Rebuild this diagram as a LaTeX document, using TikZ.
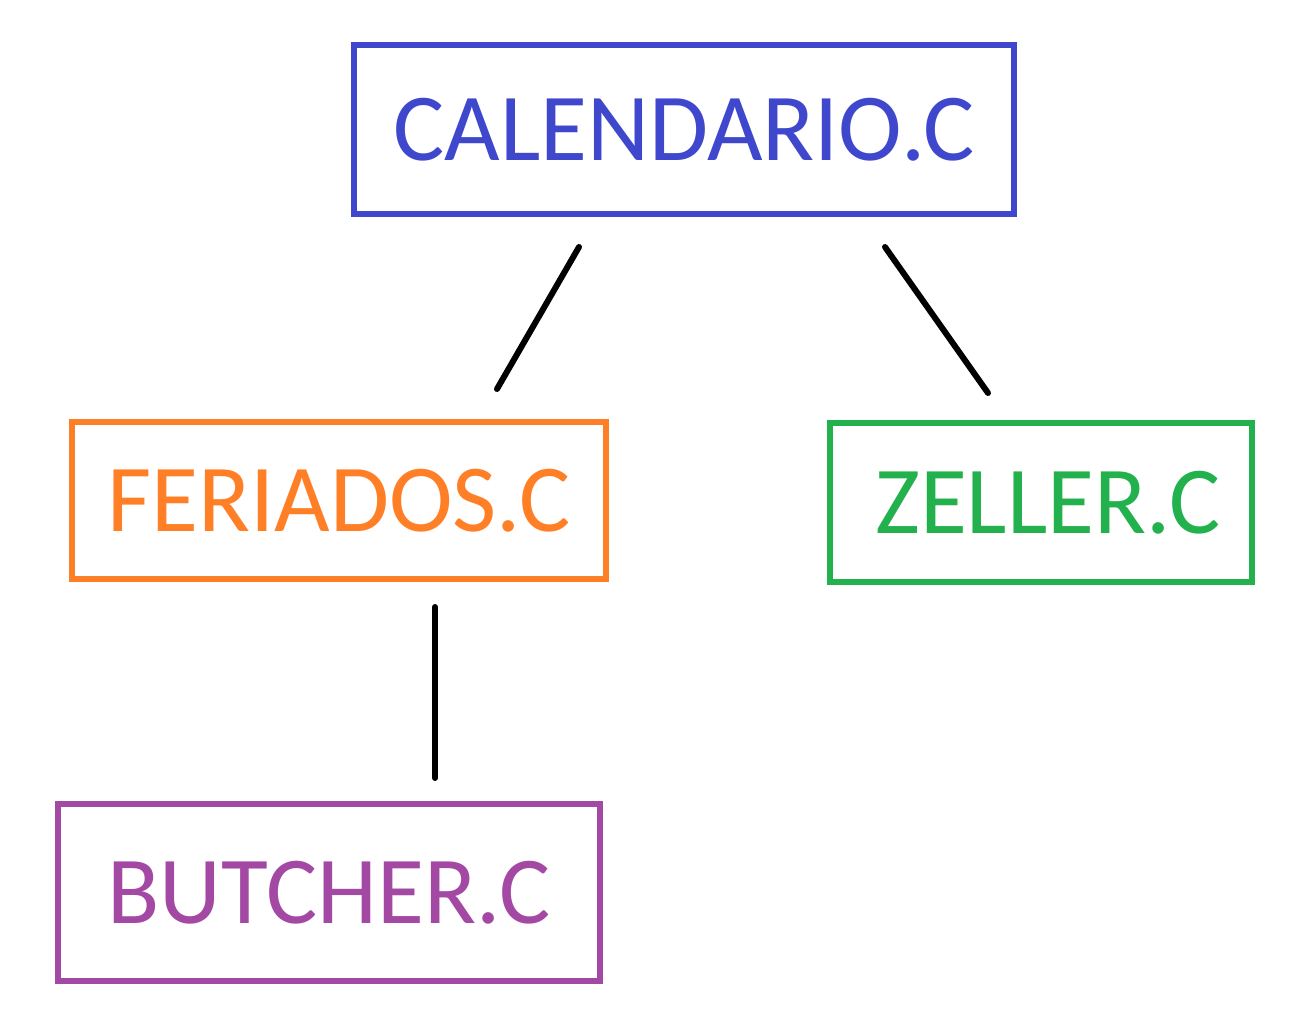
\documentclass[tikz,border=0pt]{standalone}
\usepackage{fontspec}
\setmainfont{Carlito}
\definecolor{pblue}{HTML}{3F48CC}
\definecolor{porange}{HTML}{FF7F27}
\definecolor{pgreen}{HTML}{22B14C}
\definecolor{ppurple}{HTML}{A349A4}
\begin{document}
\begin{tikzpicture}[x=1pt,y=-1pt,
  box/.style={draw, line width=6pt, rectangle, inner sep=0pt, font=\fontsize{96}{110}\selectfont},
  link/.style={draw=black, line width=6pt, line cap=round}]
\useasboundingbox (0,0) rectangle (1304,1032);
\node[box, draw=pblue, text=pblue, minimum width=660pt, minimum height=169pt] (cal) at (684,129.5) {CALENDARIO.C};
\node[box, draw=porange, text=porange, minimum width=534pt, minimum height=157pt] (fer) at (339,500.5) {FERIADOS.C};
\node[box, draw=pgreen, text=pgreen, minimum width=422pt, minimum height=159pt] (zel) at (1041,502.5) {\hspace*{14pt}ZELLER.C};
\node[box, draw=ppurple, text=ppurple, minimum width=542pt, minimum height=177pt] (but) at (329,892.5) {BUTCHER.C};
\coordinate (c1) at (579,247);
\coordinate (f1) at (497,389);
\coordinate (c2) at (885,247);
\coordinate (z1) at (988,393);
\coordinate (f2) at (435,607);
\coordinate (b1) at (435,778);
\draw[link] (c1) -- (f1);
\draw[link] (c2) -- (z1);
\draw[link] (f2) -- (b1);
\end{tikzpicture}
\end{document}
